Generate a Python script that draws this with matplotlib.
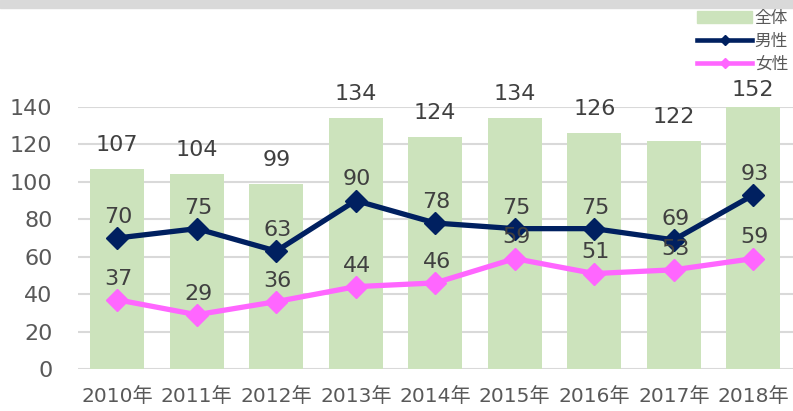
import matplotlib.pyplot as plt
import matplotlib.patches as mpatches
from matplotlib.lines import Line2D

plt.rcParams['font.family'] = ['DejaVu Sans', 'Noto Sans CJK JP']

years = ['2010年', '2011年', '2012年', '2013年', '2014年', '2015年', '2016年', '2017年', '2018年']
total = [107, 104, 99, 134, 124, 134, 126, 122, 152]
male = [70, 75, 63, 90, 78, 75, 75, 69, 93]
female = [37, 29, 36, 44, 46, 59, 51, 53, 59]

green = '#cce3bc'
navy = '#002060'
pink = '#ff66ff'
txt = '#404040'
ymax = 140

fig = plt.figure(figsize=(7.93, 4.11), dpi=100)
ax = fig.add_axes([77.5 / 793, 42 / 411, 1 - 77.5 / 793, 262 / 411])

x = list(range(len(years)))
ax.bar(x, total, width=0.68, color=green, zorder=2)
ax.plot(x, male, color=navy, lw=3.8, marker='D', ms=11, zorder=3)
ax.plot(x, female, color=pink, lw=3.8, marker='D', ms=11, zorder=3)

ax.set_xlim(-0.5, 8.5)
ax.set_ylim(0, ymax)
ax.set_yticks(range(0, 141, 20))
ax.set_xticks(x)
ax.set_xticklabels(years)
ax.grid(axis='y', color='#d9d9d9', lw=1.5, zorder=0)
ax.tick_params(length=0, labelcolor='#595959')
ax.tick_params(axis='y', pad=18, labelsize=16)
ax.tick_params(axis='x', pad=13, labelsize=14.5)
for s in ax.spines.values():
    s.set_visible(False)

# data labels
for i, v in enumerate(total):
    off = 10 if v <= ymax else 5
    ax.annotate(str(v), (i, min(v, ymax)), xytext=(0, off), textcoords='offset points',
                ha='center', va='bottom', fontsize=16, color=txt, clip_on=False)
for i, v in enumerate(male):
    ax.annotate(str(v), (i, v), xytext=(1, 8), textcoords='offset points',
                ha='center', va='bottom', fontsize=16, color=txt)
for i, v in enumerate(female):
    ax.annotate(str(v), (i, v), xytext=(1, 8), textcoords='offset points',
                ha='center', va='bottom', fontsize=16, color=txt)

# legend
handles = [mpatches.Patch(color=green),
           Line2D([], [], color=navy, lw=3.3, marker='D', ms=5),
           Line2D([], [], color=pink, lw=3.3, marker='D', ms=5)]
fig.legend(handles, ['全体', '男性', '女性'], loc='upper right', bbox_to_anchor=(1.0, 1 - 4 / 411),
           frameon=False, fontsize=12, labelcolor='#595959', handlelength=3.3,
           handletextpad=0.15, labelspacing=0.3, borderaxespad=0.1, borderpad=0.2)

# cut-off title band at top
fig.patches.append(mpatches.Rectangle((0, 1 - 8 / 411), 1, 8 / 411, transform=fig.transFigure,
                                      color='#d9d9d9', zorder=0))
fig.text(50 / 793, 1 - 1 / 411, '出生者数の年次推移', fontsize=16, fontweight='bold',
         color='black', va='bottom', ha='left')

fig.savefig('out.png', dpi=100)
